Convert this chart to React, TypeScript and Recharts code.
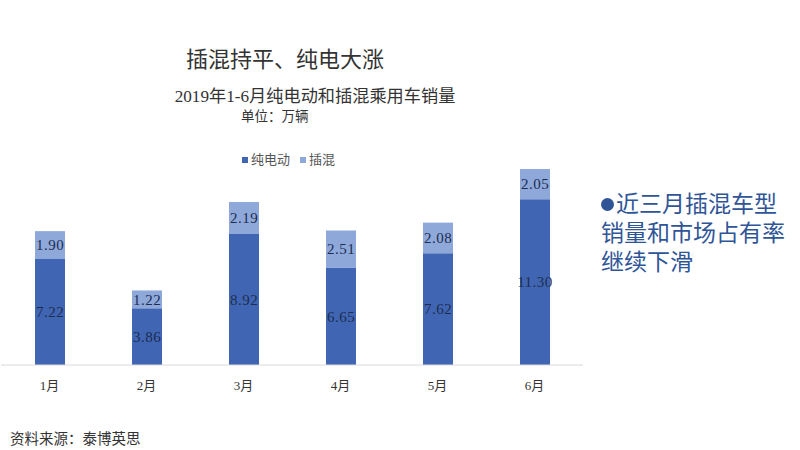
import { BarChart, Bar, XAxis, YAxis, LabelList } from "recharts";

const months = ["1月", "2月", "3月", "4月", "5月", "6月"];
const bevSales = [7.22, 3.86, 8.92, 6.65, 7.62, 11.3];
const phevSales = [1.9, 1.22, 2.19, 2.51, 2.08, 2.05];

const data = months.map((m, i) => ({ month: m, bev: bevSales[i], phev: phevSales[i] }));

// serif primary font keeps line boxes compact, CJK glyphs fall back to Noto
const cjk = '"Liberation Serif", "Noto Sans CJK SC", serif';
const BEV_COLOR = "#4066b3";
const PHEV_COLOR = "#8fa8da";
const LABEL_COLOR = "#1c2d52";

const fmt = (v: unknown) => Number(v).toFixed(2);

export default function App() {
  return (
    <div style={{ position: "absolute", left: 0, top: 0, width: 800, height: 450, background: "#fff", fontFamily: cjk }}>
      <div style={{ position: "absolute", left: 0, width: 570, top: 45, textAlign: "center", fontSize: 22, color: "#333", lineHeight: "30px" }}>
        插混持平、纯电大涨
      </div>
      <div style={{ position: "absolute", left: 0, width: 630, top: 86, textAlign: "center", fontSize: 17.2, color: "#333", lineHeight: "22px" }}>
        2019年1-6月纯电动和插混乘用车销量
      </div>
      <div style={{ position: "absolute", left: 241, top: 108, fontSize: 13.5, color: "#333", lineHeight: "18px" }}>
        单位：万辆
      </div>
      <div style={{ position: "absolute", left: 242, top: 151, fontSize: 13, color: "#555", lineHeight: "18px", display: "flex", alignItems: "center" }}>
        <span style={{ width: 6, height: 6, background: BEV_COLOR, marginRight: 3 }} />
        <span>纯电动</span>
        <span style={{ width: 6, height: 6, background: PHEV_COLOR, marginLeft: 10, marginRight: 3 }} />
        <span>插混</span>
      </div>

      <BarChart
        width={800}
        height={450}
        data={data}
        margin={{ top: 159.5, right: 217, left: 1, bottom: 55 }}
        barSize={30}
      >
        <XAxis
          dataKey="month"
          height={30}
          tickLine={false}
          tickMargin={10}
          axisLine={{ stroke: "#d9d9d9" }}
          tick={{ fill: "#333", fontSize: 13, fontFamily: cjk }}
        />
        <YAxis hide domain={[0, 14]} />
        <Bar dataKey="bev" stackId="a" fill={BEV_COLOR} isAnimationActive={false}>
          <LabelList dataKey="bev" position="center" formatter={fmt} fill={LABEL_COLOR} fontSize={15} letterSpacing={0.5} fontFamily='"Liberation Serif", serif' />
        </Bar>
        <Bar dataKey="phev" stackId="a" fill={PHEV_COLOR} isAnimationActive={false}>
          <LabelList dataKey="phev" position="center" formatter={fmt} fill={LABEL_COLOR} fontSize={15} letterSpacing={0.5} fontFamily='"Liberation Serif", serif' />
        </Bar>
      </BarChart>

      <div style={{ position: "absolute", left: 601, top: 190, width: 199, fontSize: 23, lineHeight: "29px", color: "#2f5597" }}>
        <div style={{ height: 29, display: "flex", alignItems: "center" }}>
          <span style={{ display: "inline-block", width: 13, height: 13, borderRadius: "50%", background: "#2f5597", marginRight: 2 }} />
          <span>近三月插混车型</span>
        </div>
        <div style={{ height: 29 }}>销量和市场占有率</div>
        <div style={{ height: 29 }}>继续下滑</div>
      </div>
      <div style={{ position: "absolute", left: 10, top: 429, fontSize: 14.5, color: "#333", lineHeight: "20px" }}>
        资料来源：泰博英思
      </div>
    </div>
  );
}
